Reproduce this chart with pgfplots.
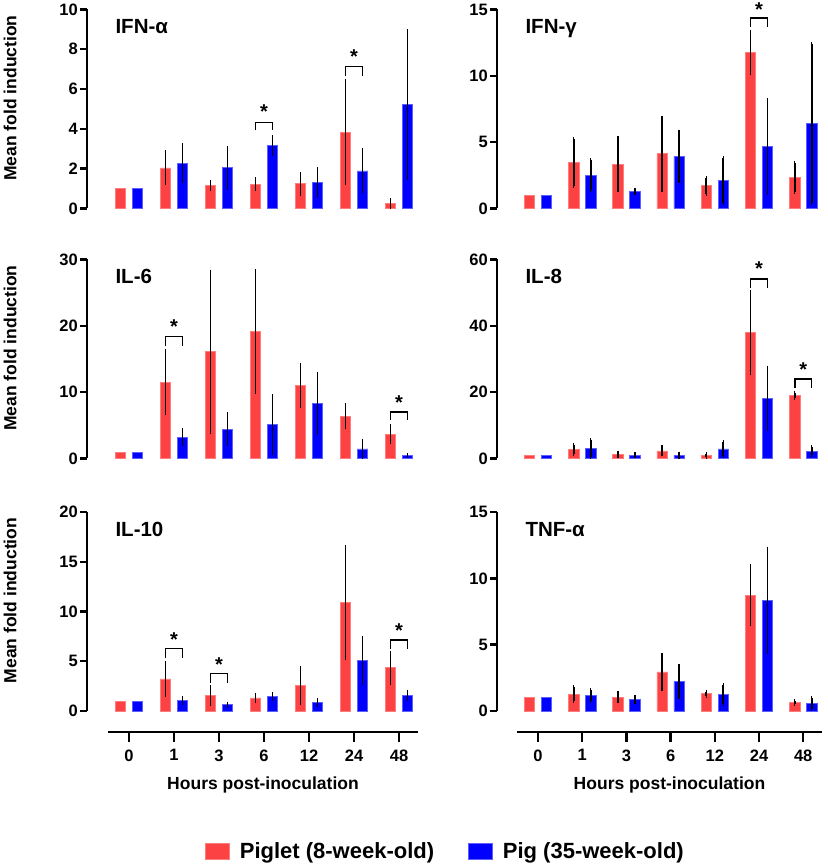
\documentclass[border=0pt]{standalone}
\usepackage{fontspec}
\setmainfont{Liberation Sans}
\usepackage{pgfplots}
\usepackage{pgfplotstable}
\pgfplotsset{compat=1.18}

\definecolor{pigred}{RGB}{252,66,66}
\definecolor{pigredl}{RGB}{255,125,125}
\definecolor{pigblue}{RGB}{0,0,255}
\definecolor{pigbluel}{RGB}{95,95,255}

\newcommand\tickf{\bfseries\fontsize{16.5}{18}\selectfont}
\newcommand\labf{\bfseries\fontsize{17.5}{20}\selectfont}
\newcommand\titf{\bfseries\fontsize{20.5}{24}\selectfont}
\newcommand\legf{\bfseries\fontsize{22}{26}\selectfont}
\newcommand\astf{\bfseries\fontsize{20}{22}\selectfont}

\pgfplotsset{
  panel/.style={
    scale only axis, height=199pt, ymin=0, clip=false,
    axis y line*=left, hide x axis,
    y axis line style={line width=2.4pt, black},
    ytick style={line width=2.4pt, black},
    tick align=outside, major tick length=7pt,
    yticklabel style={font=\tickf, inner sep=2pt},
    /pgf/number format/assume math mode=true,
    ylabel style={font=\labf},
  },
  leftp/.style={panel, width=331pt, xmin=-0.933, xmax=6.42,
    ylabel={Mean fold induction},
    ylabel style={at={(axis description cs:-0.2326,0.555)}, anchor=center}},
  rightp/.style={panel, width=325pt, xmin=-0.928, xmax=6.425},
  redbar/.style={ybar, bar width=10.5pt, bar shift=-8.5pt, fill=pigred, draw=pigredl, line width=0.7pt, forget plot},
  bluebar/.style={ybar, bar width=10.5pt, bar shift=8.5pt, fill=pigblue, draw=pigbluel, line width=0.7pt, forget plot},
  errs/.style={draw=none, forget plot,
    error bars/.cd, y dir=both, y explicit, error mark=-,
    error bar style={draw=black, line width=1.7pt},
    error mark options={draw=black, line width=1.3pt, mark size=2pt}},
  patchleg/.style={legend image code/.code={\draw[##1] (0pt,-8pt) rectangle (24pt,8pt);}},
  xaxisp/.style={scale only axis, height=10pt, ymin=0, ymax=1,
    hide y axis, axis x line*=bottom,
    x axis line style={line width=2.5pt, black},
    xtick={0,1,2,3,4,5,6}, xticklabels={0,1,3,6,12,24,48},
    tick align=outside, major tick length=10pt,
    xtick style={line width=2.4pt, black},
    xticklabel style={font=\tickf, yshift=-4pt},
    xlabel={Hours post-inoculation}, xlabel style={font=\labf, yshift=-9pt}},
}

% bracket: left x, right x, centre x, leg end, top, asterisk centre
\newcommand\sig[6]{%
  \addplot[black, line width=1.5pt, forget plot] coordinates {(#1,#4) (#1,#5) (#2,#5) (#2,#4)};
  \node[font=\astf, anchor=base, yshift=-10.5pt] at (axis cs:#3,#6) {*};
}
\newcommand\ptitle[1]{\node[anchor=base west, font=\titf, xshift=25pt, yshift=-24.5pt] at (rel axis cs:0,1) {#1};}
% bars + error bars of one panel: table, shift in axis units
\newcommand\bars[2]{%
  \addplot[redbar] coordinates {(0,1)};
  \addplot[bluebar] coordinates {(0,1)};
  \addplot[redbar] table[x=x, y=r] {#1};
  \addplot[bluebar] table[x=x, y=b] {#1};
  \addplot[errs] table[x expr=\thisrow{x}-#2, y=r, y error=re] {#1};
  \addplot[errs] table[x expr=\thisrow{x}+#2, y=b, y error=be] {#1};
}

% columns: x, red mean, red SD, blue mean, blue SD
\pgfplotstableread{
x r re b be
1 2.04 0.78 2.28 0.90
2 1.17 0.18 2.05 1.00
3 1.22 0.25 3.16 0.42
4 1.24 0.50 1.30 0.68
5 3.84 2.55 1.89 1.03
6 0.24 0.18 5.21 3.70
}\tIFNa
\pgfplotstableread{
x r re b be
1 3.47 1.80 2.49 1.13
2 3.32 1.96 1.31 0.12
3 4.12 2.70 3.94 1.86
4 1.71 0.60 2.11 1.70
5 11.76 1.57 4.70 3.50
6 2.36 1.10 6.41 6.00
}\tIFNg
\pgfplotstableread{
x r re b be
1 11.53 4.72 3.20 1.05
2 16.08 12.10 4.44 2.30
3 19.12 9.10 5.14 4.25
4 11.03 3.07 8.34 4.45
5 6.39 1.70 1.45 1.25
6 3.69 1.20 0.45 0.10
}\tILsix
\pgfplotstableread{
x r re b be
1 2.80 1.30 3.10 2.50
2 1.20 0.55 1.00 0.30
3 2.30 1.05 1.00 0.50
4 1.00 0.40 2.90 2.00
5 37.90 12.20 18.20 9.20
6 19.00 0.85 2.20 1.20
}\tILeight
\pgfplotstableread{
x r re b be
1 3.23 1.60 1.08 0.27
2 1.55 0.83 0.64 0.10
3 1.31 0.34 1.45 0.22
4 2.55 1.78 0.87 0.22
5 10.89 5.58 5.08 2.27
6 4.34 1.50 1.55 0.37
}\tILten
\pgfplotstableread{
x r re b be
1 1.28 0.50 1.20 0.42
2 1.05 0.30 0.85 0.17
3 2.95 1.27 2.23 1.15
4 1.31 0.15 1.23 0.72
5 8.74 2.20 8.33 3.90
6 0.64 0.10 0.54 0.41
}\tTNFa

\begin{document}
\begin{tikzpicture}
\path[use as bounding box] (0pt,0pt) rectangle (827pt,867pt);

% IFN-alpha
\begin{axis}[leftp, at={(87pt,658.5pt)}, anchor=south west, ymax=10, ytick={0,2,4,6,8,10}]
\bars{\tIFNa}{0.189}
\sig{2.81}{3.19}{3}{3.92}{4.32}{5.04}
\sig{4.81}{5.19}{5}{6.68}{7.13}{7.80}
\ptitle{IFN-α}
\end{axis}

% IFN-gamma
\begin{axis}[rightp, at={(497pt,658.5pt)}, anchor=south west, ymax=15, ytick={0,5,10,15}]
\bars{\tIFNg}{0.192}
\sig{4.81}{5.19}{5}{13.70}{14.35}{15.30}
\ptitle{IFN-γ}
\end{axis}

% IL-6
\begin{axis}[leftp, at={(87pt,408.5pt)}, anchor=south west, ymax=30, ytick={0,10,20,30}]
\bars{\tILsix}{0.189}
\sig{0.81}{1.19}{1}{17.02}{18.42}{20.37}
\sig{5.81}{6.19}{6}{5.79}{7.04}{9.04}
\ptitle{IL-6}
\end{axis}

% IL-8
\begin{axis}[rightp, at={(497pt,408.5pt)}, anchor=south west, ymax=60, ytick={0,20,40,60}]
\bars{\tILeight}{0.192}
\sig{4.81}{5.19}{5}{51.4}{54.1}{58.2}
\sig{5.81}{6.19}{6}{21.2}{23.9}{28.0}
\ptitle{IL-8}
\end{axis}

% IL-10
\begin{axis}[leftp, at={(87pt,156pt)}, anchor=south west, ymax=20, ytick={0,5,10,15,20},
  legend columns=2, legend cell align=left,
  legend style={at={(1.083,-0.7035)}, anchor=center, draw=none, fill=none, font=\legf,
    /tikz/every odd column/.append style={column sep=8pt},
    /tikz/every even column/.append style={column sep=32pt}}]
\addlegendimage{patchleg, fill=pigred, draw=pigredl, line width=0.7pt}
\addlegendentry{Piglet (8-week-old)}
\addlegendimage{patchleg, fill=pigblue, draw=pigbluel, line width=0.7pt}
\addlegendentry{Pig (35-week-old)}
\bars{\tILten}{0.189}
\sig{0.81}{1.19}{1}{5.28}{6.29}{7.56}
\sig{1.81}{2.19}{2}{2.86}{3.76}{5.04}
\sig{5.81}{6.19}{6}{6.22}{7.13}{8.47}
\ptitle{IL-10}
\end{axis}

% TNF-alpha
\begin{axis}[rightp, at={(497pt,156pt)}, anchor=south west, ymax=15, ytick={0,5,10,15}]
\bars{\tTNFa}{0.192}
\ptitle{TNF-α}
\end{axis}

% shared x axes below bottom row
\begin{axis}[xaxisp, at={(108pt,135pt)}, anchor=south west, width=310pt, xmin=-0.467, xmax=6.42]
\addplot[draw=none, forget plot] coordinates {(0,0.5)};
\end{axis}
\begin{axis}[xaxisp, at={(517pt,135pt)}, anchor=south west, width=305pt, xmin=-0.475, xmax=6.425]
\addplot[draw=none, forget plot] coordinates {(0,0.5)};
\end{axis}
\end{tikzpicture}
\end{document}
